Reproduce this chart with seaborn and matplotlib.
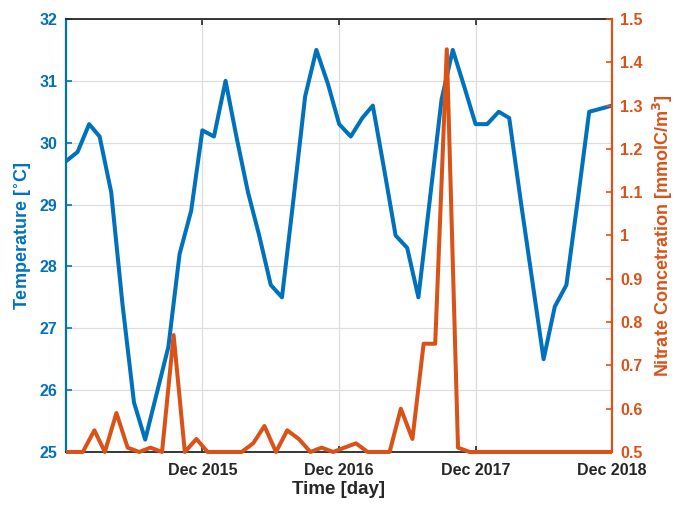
import matplotlib
matplotlib.use("Agg")
import matplotlib.pyplot as plt
import matplotlib.dates as mdates
from matplotlib.ticker import FuncFormatter
from matplotlib.transforms import Bbox, TransformedBbox
import pandas as pd
import seaborn as sns

# Monthly sea temperature (first of each month, Dec 2014 - Dec 2018)
temp_start, temp_end = "2014-12-01", "2018-12-01"
temperature = [
    29.70, 29.85, 30.30, 30.10, 29.20, 27.40, 25.80, 25.20, 25.95, 26.70, 28.20, 28.90,
    30.20, 30.10, 31.00, 30.10, 29.20, 28.50, 27.70, 27.50, 29.10, 30.75, 31.50, 30.95,
    30.30, 30.10, 30.40, 30.60, 29.55, 28.50, 28.30, 27.50, 29.10, 30.70, 31.50, 30.90,
    30.30, 30.30, 30.50, 30.40, 29.05, 27.80, 26.50, 27.35, 27.70, 29.10, 30.50, 30.55,
    30.60,
]

# Mid-month nitrate samples (Nov 2014 - Dec 2018)
nitrate_first_month = "2014-11-01"
nitrate = [
    0.50,
    0.50, 0.50, 0.55, 0.50, 0.59, 0.51, 0.50, 0.51, 0.50, 0.77, 0.50, 0.53,
    0.50, 0.50, 0.50, 0.50, 0.52, 0.56, 0.50, 0.55, 0.53, 0.50, 0.51, 0.50,
    0.51, 0.52, 0.50, 0.50, 0.50, 0.60, 0.53, 0.75, 0.75, 1.43, 0.51, 0.50,
    0.50, 0.50, 0.50, 0.50, 0.50, 0.50, 0.50, 0.50, 0.50, 0.50, 0.50, 0.50,
    0.50,
]

x_ticks = ["2015-12-01", "2016-12-01", "2017-12-01", "2018-12-01"]
temp_ticks = [25, 26, 27, 28, 29, 30, 31, 32]
nitrate_ticks = [0.5, 0.6, 0.7, 0.8, 0.9, 1.0, 1.1, 1.2, 1.3, 1.4, 1.5]

BLUE = "#0072BD"
ORANGE = "#D95319"
DARK = "#262626"

temp_df = pd.DataFrame({
    "date": pd.date_range(temp_start, temp_end, freq="MS"),
    "temperature": temperature,
})
nitrate_df = pd.DataFrame({
    "date": pd.date_range(nitrate_first_month, periods=len(nitrate), freq="MS")
            + pd.Timedelta(days=14),
    "nitrate": nitrate,
})

sns.set_theme(style="white")
plt.rcParams["font.family"] = ["Liberation Sans", "DejaVu Sans"]
plt.rcParams["font.weight"] = "bold"
plt.rcParams["axes.labelweight"] = "bold"
plt.rcParams["mathtext.default"] = "bf"

fig = plt.figure(figsize=(6.76, 5.05), dpi=100)
ax = fig.add_axes([0.0976, 0.105, 0.9053 - 0.0976, 0.9624 - 0.105])
ax2 = ax.twinx()

sns.lineplot(data=temp_df, x="date", y="temperature", ax=ax, color=BLUE,
             linewidth=2.9, zorder=3)
sns.lineplot(data=nitrate_df, x="date", y="nitrate", ax=ax2, color=ORANGE,
             linewidth=2.9, zorder=3)

# Let the lines spill a little past the top/bottom edge, but not left/right
for a in (ax, ax2):
    for line in a.get_lines():
        line.set_clip_box(TransformedBbox(Bbox([[0, -0.02], [1, 1.02]]), a.transAxes))

ax.set_xlim(pd.Timestamp(temp_start), pd.Timestamp(temp_end))
ax.set_ylim(25, 32)
ax2.set_ylim(0.5, 1.5)

ax.set_xticks(pd.to_datetime(x_ticks))
ax.xaxis.set_major_formatter(mdates.DateFormatter("%b %Y"))
ax.set_yticks(temp_ticks)
ax2.set_yticks(nitrate_ticks)
ax2.yaxis.set_major_formatter(FuncFormatter(lambda v, p: f"{v:g}"))

ax.grid(True, color="#dedede", linewidth=0.9)
ax2.grid(False)

ax.tick_params(axis="x", direction="in", length=4, width=1.2, colors=DARK,
               labelsize=11.5, top=True, bottom=True, pad=8)
ax.tick_params(axis="y", direction="in", length=4, width=1.2, colors=BLUE,
               labelsize=11.5, left=True, pad=6)
ax2.tick_params(axis="y", direction="in", length=4, width=1.2, colors=ORANGE,
                labelsize=11.5, right=True, pad=6)

for s in ("top", "bottom"):
    ax.spines[s].set_color(DARK)
    ax.spines[s].set_linewidth(1.3)
ax.spines["left"].set_color(BLUE)
ax.spines["left"].set_linewidth(1.6)
ax.spines["right"].set_visible(False)
for s in ("top", "bottom", "left"):
    ax2.spines[s].set_visible(False)
ax2.spines["right"].set_color(ORANGE)
ax2.spines["right"].set_linewidth(1.6)

ax.set_xlabel("Time [day]", fontsize=13.5, color=DARK, labelpad=2)
ax.set_ylabel("Temperature [$^{\\circ}$C]", fontsize=13, color=BLUE, labelpad=4)
ax2.set_ylabel("Nitrate Concetration [mmolC/m$^3$]", fontsize=13, color=ORANGE, labelpad=6)

fig.savefig("out.png", dpi=100, facecolor="white")
